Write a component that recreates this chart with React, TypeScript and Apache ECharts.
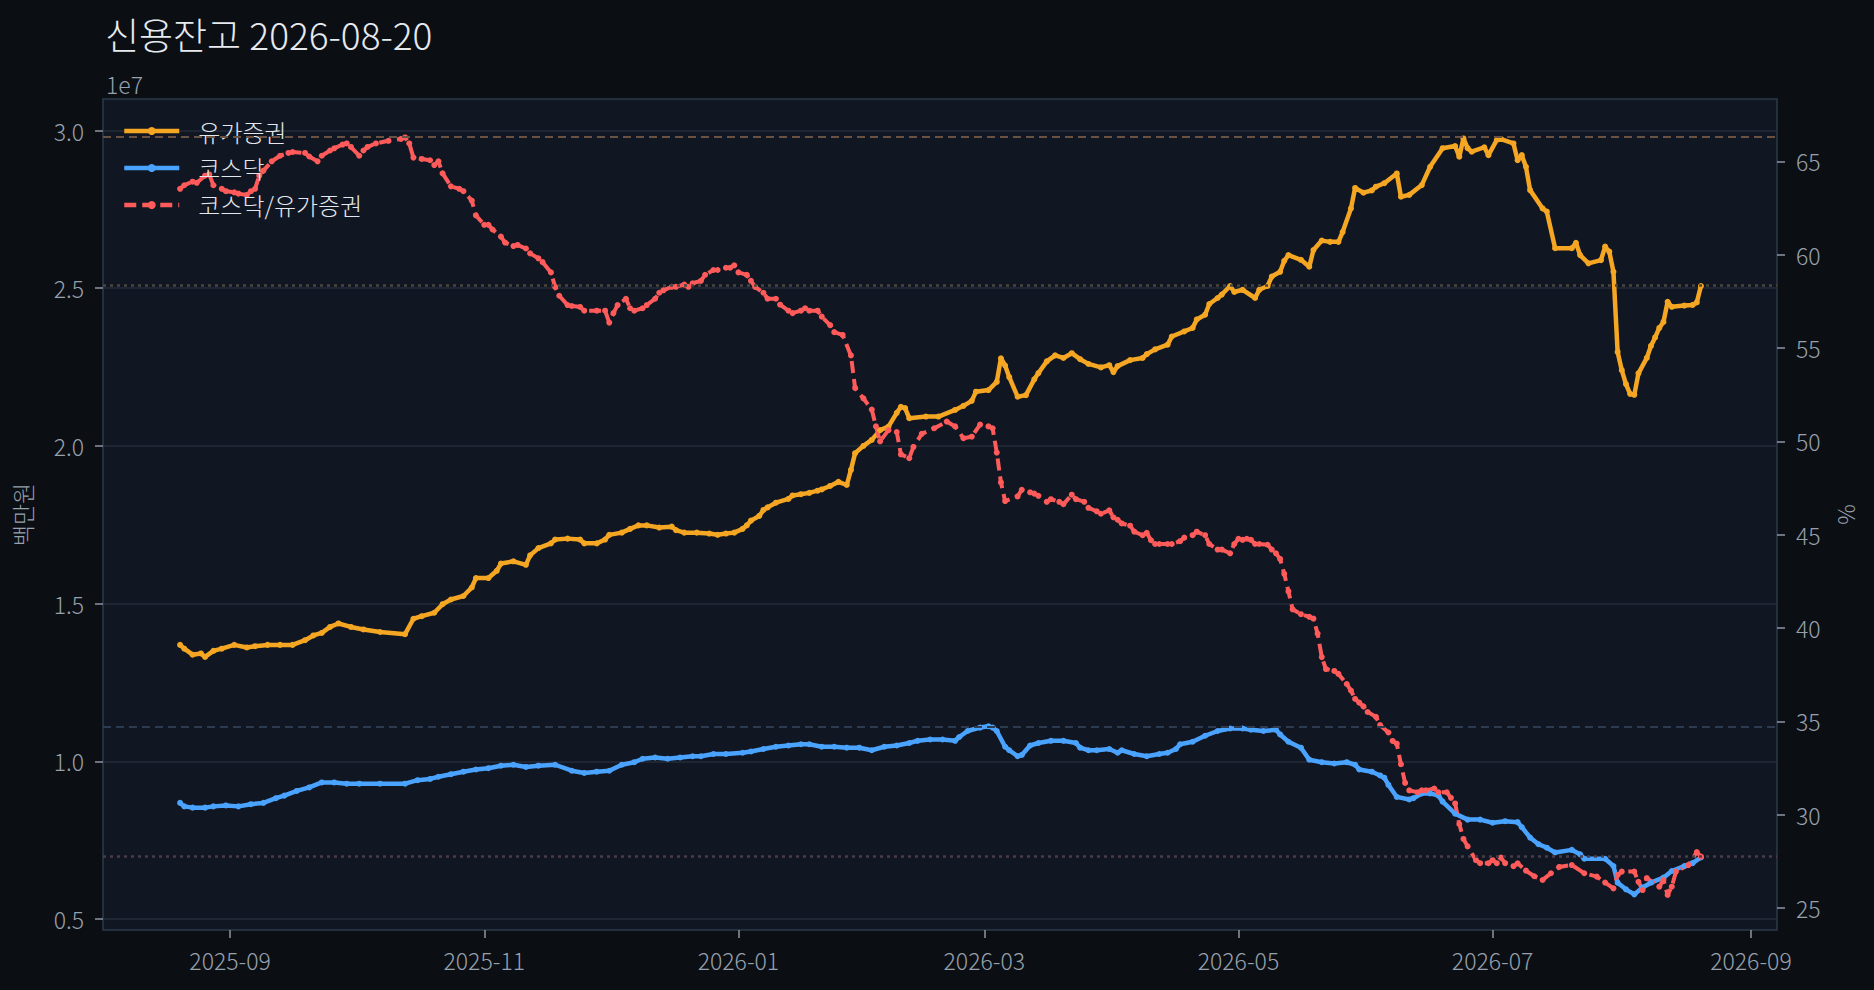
import React, { useEffect, useRef } from "react";
import * as echarts from "echarts";

// 유가증권 신용잔고 (단위: 1e7 백만원)
const KOSPI: [string, number][] = [
  ["2025-08-20", 1.369], ["2025-08-21", 1.357], ["2025-08-23", 1.338], ["2025-08-25", 1.342], ["2025-08-26", 1.331],
  ["2025-08-28", 1.350], ["2025-08-30", 1.357], ["2025-09-02", 1.369], ["2025-09-05", 1.361], ["2025-09-07", 1.365],
  ["2025-09-10", 1.369], ["2025-09-13", 1.369], ["2025-09-16", 1.369], ["2025-09-19", 1.384], ["2025-09-21", 1.399],
  ["2025-09-23", 1.407], ["2025-09-25", 1.426], ["2025-09-27", 1.437], ["2025-09-30", 1.426], ["2025-10-03", 1.418],
  ["2025-10-07", 1.410], ["2025-10-13", 1.403], ["2025-10-15", 1.452], ["2025-10-17", 1.460], ["2025-10-20", 1.471],
  ["2025-10-22", 1.498], ["2025-10-24", 1.513], ["2025-10-27", 1.524], ["2025-10-29", 1.551], ["2025-10-30", 1.581],
  ["2025-11-02", 1.581], ["2025-11-04", 1.604], ["2025-11-05", 1.627], ["2025-11-08", 1.634], ["2025-11-11", 1.623],
  ["2025-11-12", 1.653], ["2025-11-14", 1.676], ["2025-11-17", 1.691], ["2025-11-18", 1.703], ["2025-11-21", 1.706],
  ["2025-11-24", 1.703], ["2025-11-25", 1.691], ["2025-11-28", 1.691], ["2025-11-30", 1.703], ["2025-12-01", 1.718],
  ["2025-12-04", 1.725], ["2025-12-06", 1.737], ["2025-12-08", 1.748], ["2025-12-10", 1.748], ["2025-12-13", 1.741],
  ["2025-12-16", 1.744], ["2025-12-17", 1.733], ["2025-12-19", 1.725], ["2025-12-22", 1.725], ["2025-12-25", 1.722],
  ["2025-12-27", 1.718], ["2025-12-29", 1.722], ["2025-12-31", 1.725], ["2026-01-02", 1.737], ["2026-01-03", 1.748],
  ["2026-01-04", 1.763], ["2026-01-06", 1.778], ["2026-01-07", 1.797], ["2026-01-08", 1.805], ["2026-01-10", 1.820],
  ["2026-01-13", 1.832], ["2026-01-14", 1.843], ["2026-01-16", 1.847], ["2026-01-18", 1.851], ["2026-01-20", 1.858],
  ["2026-01-21", 1.862], ["2026-01-23", 1.873], ["2026-01-25", 1.886], ["2026-01-27", 1.876], ["2026-01-28", 1.924],
  ["2026-01-29", 1.977], ["2026-01-31", 2.000], ["2026-02-02", 2.019], ["2026-02-04", 2.050], ["2026-02-06", 2.061],
  ["2026-02-08", 2.105], ["2026-02-09", 2.124], ["2026-02-10", 2.120], ["2026-02-11", 2.088], ["2026-02-15", 2.093],
  ["2026-02-18", 2.093], ["2026-02-22", 2.114], ["2026-02-24", 2.127], ["2026-02-26", 2.143], ["2026-02-27", 2.172],
  ["2026-03-02", 2.177], ["2026-03-04", 2.203], ["2026-03-05", 2.278], ["2026-03-06", 2.255], ["2026-03-07", 2.218],
  ["2026-03-09", 2.156], ["2026-03-11", 2.161], ["2026-03-13", 2.211], ["2026-03-14", 2.231], ["2026-03-16", 2.268],
  ["2026-03-18", 2.287], ["2026-03-20", 2.279], ["2026-03-22", 2.294], ["2026-03-24", 2.275], ["2026-03-26", 2.260],
  ["2026-03-29", 2.249], ["2026-03-31", 2.256], ["2026-04-01", 2.234], ["2026-04-02", 2.253], ["2026-04-05", 2.272],
  ["2026-04-08", 2.279], ["2026-04-09", 2.291], ["2026-04-11", 2.306], ["2026-04-14", 2.321], ["2026-04-15", 2.347],
  ["2026-04-18", 2.363], ["2026-04-20", 2.374], ["2026-04-21", 2.401], ["2026-04-23", 2.416], ["2026-04-24", 2.450],
  ["2026-04-26", 2.469], ["2026-04-27", 2.480], ["2026-04-29", 2.507], ["2026-04-30", 2.488], ["2026-05-02", 2.495],
  ["2026-05-05", 2.469], ["2026-05-06", 2.495], ["2026-05-08", 2.507], ["2026-05-09", 2.537], ["2026-05-11", 2.552],
  ["2026-05-12", 2.587], ["2026-05-13", 2.605], ["2026-05-16", 2.590], ["2026-05-18", 2.568], ["2026-05-19", 2.621],
  ["2026-05-21", 2.651], ["2026-05-23", 2.647], ["2026-05-25", 2.647], ["2026-05-26", 2.678], ["2026-05-28", 2.753],
  ["2026-05-29", 2.818], ["2026-05-31", 2.803], ["2026-06-02", 2.810], ["2026-06-03", 2.822], ["2026-06-05", 2.833],
  ["2026-06-08", 2.864], ["2026-06-09", 2.790], ["2026-06-11", 2.796], ["2026-06-14", 2.827], ["2026-06-16", 2.885],
  ["2026-06-19", 2.944], ["2026-06-22", 2.951], ["2026-06-23", 2.917], ["2026-06-24", 2.975], ["2026-06-25", 2.944],
  ["2026-06-26", 2.933], ["2026-06-29", 2.947], ["2026-06-30", 2.922], ["2026-07-02", 2.970], ["2026-07-03", 2.973],
  ["2026-07-06", 2.959], ["2026-07-07", 2.906], ["2026-07-08", 2.922], ["2026-07-09", 2.885], ["2026-07-10", 2.811],
  ["2026-07-13", 2.753], ["2026-07-14", 2.743], ["2026-07-16", 2.627], ["2026-07-20", 2.627], ["2026-07-21", 2.644],
  ["2026-07-22", 2.605], ["2026-07-24", 2.579], ["2026-07-27", 2.589], ["2026-07-28", 2.632], ["2026-07-29", 2.616],
  ["2026-07-30", 2.552], ["2026-07-31", 2.298], ["2026-08-01", 2.240], ["2026-08-02", 2.196], ["2026-08-03", 2.165],
  ["2026-08-04", 2.162], ["2026-08-05", 2.230], ["2026-08-07", 2.279], ["2026-08-08", 2.317], ["2026-08-09", 2.344],
  ["2026-08-10", 2.374], ["2026-08-11", 2.393], ["2026-08-12", 2.457], ["2026-08-13", 2.441], ["2026-08-16", 2.445],
  ["2026-08-18", 2.447], ["2026-08-19", 2.455], ["2026-08-20", 2.507],
];

// 코스닥 신용잔고 (단위: 1e7 백만원)
const KOSDAQ: [string, number][] = [
  ["2025-08-20", 0.868], ["2025-08-21", 0.857], ["2025-08-23", 0.853], ["2025-08-26", 0.853], ["2025-08-28", 0.857],
  ["2025-08-31", 0.860], ["2025-09-03", 0.857], ["2025-09-06", 0.864], ["2025-09-09", 0.868], ["2025-09-12", 0.883],
  ["2025-09-14", 0.891], ["2025-09-17", 0.906], ["2025-09-20", 0.917], ["2025-09-23", 0.933], ["2025-09-26", 0.933],
  ["2025-09-29", 0.929], ["2025-10-02", 0.929], ["2025-10-07", 0.929], ["2025-10-13", 0.929], ["2025-10-16", 0.940],
  ["2025-10-19", 0.944], ["2025-10-21", 0.951], ["2025-10-24", 0.959], ["2025-10-27", 0.967], ["2025-10-30", 0.974],
  ["2025-11-02", 0.978], ["2025-11-05", 0.986], ["2025-11-08", 0.989], ["2025-11-11", 0.982], ["2025-11-14", 0.986],
  ["2025-11-18", 0.989], ["2025-11-22", 0.970], ["2025-11-25", 0.963], ["2025-11-28", 0.967], ["2025-12-01", 0.970],
  ["2025-12-04", 0.989], ["2025-12-07", 0.997], ["2025-12-09", 1.008], ["2025-12-12", 1.012], ["2025-12-15", 1.008],
  ["2025-12-18", 1.012], ["2025-12-21", 1.016], ["2025-12-23", 1.016], ["2025-12-26", 1.023], ["2025-12-29", 1.023],
  ["2026-01-02", 1.027], ["2026-01-04", 1.031], ["2026-01-07", 1.039], ["2026-01-10", 1.046], ["2026-01-13", 1.050],
  ["2026-01-16", 1.054], ["2026-01-18", 1.054], ["2026-01-21", 1.046], ["2026-01-24", 1.046], ["2026-01-27", 1.043],
  ["2026-01-30", 1.043], ["2026-02-02", 1.035], ["2026-02-05", 1.046], ["2026-02-08", 1.050], ["2026-02-11", 1.058],
  ["2026-02-13", 1.065], ["2026-02-16", 1.069], ["2026-02-19", 1.069], ["2026-02-22", 1.065], ["2026-02-23", 1.077],
  ["2026-02-25", 1.096], ["2026-02-28", 1.107], ["2026-03-02", 1.111], ["2026-03-03", 1.107], ["2026-03-04", 1.096],
  ["2026-03-06", 1.046], ["2026-03-07", 1.035], ["2026-03-09", 1.016], ["2026-03-10", 1.020], ["2026-03-12", 1.050],
  ["2026-03-14", 1.058], ["2026-03-17", 1.065], ["2026-03-20", 1.065], ["2026-03-23", 1.058], ["2026-03-24", 1.043],
  ["2026-03-26", 1.035], ["2026-03-28", 1.035], ["2026-03-31", 1.039], ["2026-04-02", 1.027], ["2026-04-03", 1.035],
  ["2026-04-06", 1.023], ["2026-04-09", 1.016], ["2026-04-12", 1.023], ["2026-04-14", 1.027], ["2026-04-16", 1.039],
  ["2026-04-17", 1.054], ["2026-04-20", 1.062], ["2026-04-23", 1.081], ["2026-04-26", 1.096], ["2026-04-29", 1.104],
  ["2026-05-02", 1.104], ["2026-05-04", 1.100], ["2026-05-07", 1.096], ["2026-05-10", 1.100], ["2026-05-11", 1.085],
  ["2026-05-13", 1.062], ["2026-05-16", 1.043], ["2026-05-18", 1.005], ["2026-05-21", 0.997], ["2026-05-24", 0.993],
  ["2026-05-27", 0.997], ["2026-05-29", 0.989], ["2026-05-30", 0.974], ["2026-06-02", 0.967], ["2026-06-04", 0.955],
  ["2026-06-05", 0.948], ["2026-06-06", 0.925], ["2026-06-08", 0.887], ["2026-06-11", 0.879], ["2026-06-12", 0.883],
  ["2026-06-14", 0.898], ["2026-06-16", 0.898], ["2026-06-18", 0.891], ["2026-06-19", 0.872], ["2026-06-22", 0.834],
  ["2026-06-25", 0.815], ["2026-06-28", 0.815], ["2026-07-01", 0.805], ["2026-07-04", 0.810], ["2026-07-07", 0.807],
  ["2026-07-08", 0.791], ["2026-07-10", 0.758], ["2026-07-12", 0.737], ["2026-07-14", 0.726], ["2026-07-16", 0.711],
  ["2026-07-20", 0.719], ["2026-07-22", 0.705], ["2026-07-23", 0.691], ["2026-07-28", 0.691], ["2026-07-30", 0.668],
  ["2026-07-31", 0.615], ["2026-08-02", 0.594], ["2026-08-04", 0.578], ["2026-08-06", 0.600], ["2026-08-08", 0.615],
  ["2026-08-11", 0.631], ["2026-08-13", 0.652], ["2026-08-16", 0.668], ["2026-08-18", 0.677], ["2026-08-20", 0.695],
];

// 코스닥/유가증권 (%)
const RATIO: [string, number][] = [
  ["2025-08-20", 63.53], ["2025-08-21", 63.72], ["2025-08-23", 63.91], ["2025-08-24", 63.85], ["2025-08-26", 64.23],
  ["2025-08-27", 64.30], ["2025-08-28", 63.72], ["2025-08-30", 63.53], ["2025-08-31", 63.40], ["2025-09-02", 63.34],
  ["2025-09-03", 63.27], ["2025-09-05", 63.20], ["2025-09-06", 63.40], ["2025-09-07", 63.53], ["2025-09-08", 64.23],
  ["2025-09-09", 64.50], ["2025-09-11", 65.00], ["2025-09-13", 65.30], ["2025-09-15", 65.45], ["2025-09-16", 65.50],
  ["2025-09-19", 65.45], ["2025-09-20", 65.26], ["2025-09-22", 65.00], ["2025-09-23", 65.30], ["2025-09-25", 65.58],
  ["2025-09-26", 65.70], ["2025-09-28", 65.90], ["2025-09-29", 65.96], ["2025-09-30", 65.77], ["2025-10-02", 65.30],
  ["2025-10-03", 65.58], ["2025-10-04", 65.77], ["2025-10-06", 65.96], ["2025-10-09", 66.10], ["2025-10-12", 66.20],
  ["2025-10-13", 66.28], ["2025-10-14", 65.96], ["2025-10-15", 65.20], ["2025-10-17", 65.13], ["2025-10-19", 65.06],
  ["2025-10-20", 64.80], ["2025-10-21", 65.00], ["2025-10-22", 64.36], ["2025-10-24", 63.66], ["2025-10-26", 63.53],
  ["2025-10-27", 63.40], ["2025-10-29", 62.90], ["2025-10-30", 62.10], ["2025-11-01", 61.60], ["2025-11-02", 61.60],
  ["2025-11-03", 61.35], ["2025-11-05", 60.97], ["2025-11-06", 60.65], ["2025-11-08", 60.46], ["2025-11-09", 60.52],
  ["2025-11-11", 60.33], ["2025-11-12", 60.07], ["2025-11-14", 59.80], ["2025-11-15", 59.60], ["2025-11-17", 59.05],
  ["2025-11-18", 58.28], ["2025-11-19", 57.80], ["2025-11-21", 57.30], ["2025-11-22", 57.25], ["2025-11-24", 57.20],
  ["2025-11-25", 57.00], ["2025-11-28", 57.00], ["2025-11-30", 57.00], ["2025-12-01", 56.36], ["2025-12-02", 56.87],
  ["2025-12-03", 57.30], ["2025-12-05", 57.64], ["2025-12-06", 57.13], ["2025-12-07", 57.00], ["2025-12-09", 57.13],
  ["2025-12-10", 57.30], ["2025-12-12", 57.64], ["2025-12-13", 57.96], ["2025-12-14", 58.09], ["2025-12-16", 58.28],
  ["2025-12-17", 58.28], ["2025-12-19", 58.40], ["2025-12-20", 58.28], ["2025-12-21", 58.47], ["2025-12-23", 58.60],
  ["2025-12-24", 58.92], ["2025-12-26", 59.18], ["2025-12-27", 59.18], ["2025-12-29", 59.30], ["2025-12-30", 59.30],
  ["2025-12-31", 59.43], ["2026-01-01", 59.05], ["2026-01-03", 58.92], ["2026-01-04", 58.60], ["2026-01-05", 58.28],
  ["2026-01-07", 57.96], ["2026-01-08", 57.64], ["2026-01-10", 57.64], ["2026-01-11", 57.32], ["2026-01-13", 57.00],
  ["2026-01-14", 56.87], ["2026-01-16", 57.00], ["2026-01-17", 57.13], ["2026-01-18", 57.00], ["2026-01-20", 57.00],
  ["2026-01-21", 56.68], ["2026-01-23", 56.23], ["2026-01-24", 55.85], ["2026-01-26", 55.70], ["2026-01-28", 54.60],
  ["2026-01-29", 52.86], ["2026-01-31", 52.30], ["2026-02-02", 51.70], ["2026-02-03", 50.80], ["2026-02-04", 50.00],
  ["2026-02-06", 50.60], ["2026-02-08", 50.50], ["2026-02-09", 49.30], ["2026-02-11", 49.10], ["2026-02-12", 49.70],
  ["2026-02-14", 50.40], ["2026-02-17", 50.70], ["2026-02-20", 51.06], ["2026-02-22", 50.80], ["2026-02-24", 50.17],
  ["2026-02-26", 50.25], ["2026-02-28", 50.90], ["2026-03-02", 50.80], ["2026-03-03", 50.70], ["2026-03-04", 49.40],
  ["2026-03-05", 47.80], ["2026-03-06", 46.80], ["2026-03-09", 47.05], ["2026-03-10", 47.40], ["2026-03-12", 47.27],
  ["2026-03-13", 47.20], ["2026-03-14", 47.08], ["2026-03-16", 46.76], ["2026-03-17", 46.90], ["2026-03-19", 46.76],
  ["2026-03-20", 46.63], ["2026-03-22", 47.14], ["2026-03-23", 46.90], ["2026-03-25", 46.76], ["2026-03-26", 46.44],
  ["2026-03-28", 46.25], ["2026-03-29", 46.12], ["2026-03-31", 46.30], ["2026-04-01", 45.93], ["2026-04-02", 45.80],
  ["2026-04-03", 45.60], ["2026-04-05", 45.48], ["2026-04-06", 45.16], ["2026-04-08", 44.97], ["2026-04-09", 45.10],
  ["2026-04-10", 44.70], ["2026-04-11", 44.50], ["2026-04-12", 44.50], ["2026-04-14", 44.50], ["2026-04-15", 44.50],
  ["2026-04-17", 44.65], ["2026-04-18", 44.84], ["2026-04-20", 44.97], ["2026-04-21", 45.16], ["2026-04-23", 44.97],
  ["2026-04-24", 44.50], ["2026-04-26", 44.20], ["2026-04-27", 44.20], ["2026-04-29", 44.00], ["2026-04-30", 44.50],
  ["2026-05-01", 44.78], ["2026-05-02", 44.72], ["2026-05-03", 44.78], ["2026-05-04", 44.72], ["2026-05-05", 44.50],
  ["2026-05-06", 44.50], ["2026-05-08", 44.46], ["2026-05-09", 44.20], ["2026-05-10", 44.00], ["2026-05-11", 43.70],
  ["2026-05-12", 42.90], ["2026-05-13", 41.96], ["2026-05-14", 41.00], ["2026-05-16", 40.74], ["2026-05-18", 40.60],
  ["2026-05-19", 40.50], ["2026-05-20", 39.70], ["2026-05-21", 38.44], ["2026-05-22", 37.80], ["2026-05-24", 37.70],
  ["2026-05-25", 37.54], ["2026-05-27", 37.00], ["2026-05-28", 36.65], ["2026-05-29", 36.20], ["2026-05-30", 36.00],
  ["2026-05-31", 35.80], ["2026-06-01", 35.50], ["2026-06-03", 35.24], ["2026-06-04", 34.80], ["2026-06-06", 34.40],
  ["2026-06-07", 33.95], ["2026-06-08", 33.80], ["2026-06-09", 32.70], ["2026-06-10", 31.70], ["2026-06-11", 31.30],
  ["2026-06-13", 31.20], ["2026-06-14", 31.30], ["2026-06-15", 31.30], ["2026-06-17", 31.40], ["2026-06-18", 31.20],
  ["2026-06-20", 31.20], ["2026-06-21", 30.90], ["2026-06-22", 30.60], ["2026-06-23", 29.50], ["2026-06-24", 28.70],
  ["2026-06-25", 28.30], ["2026-06-27", 27.56], ["2026-06-28", 27.40], ["2026-06-30", 27.40], ["2026-07-01", 27.56],
  ["2026-07-02", 27.40], ["2026-07-03", 27.70], ["2026-07-04", 27.40], ["2026-07-06", 27.24], ["2026-07-07", 27.39],
  ["2026-07-09", 27.00], ["2026-07-11", 26.70], ["2026-07-13", 26.50], ["2026-07-15", 26.86], ["2026-07-17", 27.20],
  ["2026-07-20", 27.30], ["2026-07-23", 26.86], ["2026-07-26", 26.68], ["2026-07-28", 26.36], ["2026-07-30", 26.05],
  ["2026-07-31", 26.77], ["2026-08-01", 26.95], ["2026-08-04", 26.95], ["2026-08-05", 26.40], ["2026-08-06", 25.96],
  ["2026-08-07", 26.60], ["2026-08-10", 26.14], ["2026-08-11", 26.50], ["2026-08-12", 25.70], ["2026-08-13", 26.14],
  ["2026-08-14", 26.95], ["2026-08-17", 27.30], ["2026-08-19", 28.00], ["2026-08-20", 27.75],
];

const X_TICKS = ["2025-09-01", "2025-11-01", "2026-01-01", "2026-03-01", "2026-05-01", "2026-07-01", "2026-09-01"];
const LEFT_TICKS = [0.5, 1.0, 1.5, 2.0, 2.5, 3.0];
const RIGHT_TICKS = [25, 30, 35, 40, 45, 50, 55, 60, 65];
const TITLE = "신용잔고 2026-08-20";
const NAMES = ["유가증권", "코스닥", "코스닥/유가증권"];

const ts = (s: string) => {
  const [y, m, d] = s.split("-").map(Number);
  return new Date(y, m - 1, d).getTime();
};

const FONT = "'Noto Sans CJK KR', 'Noto Sans', sans-serif";
const TICK_COLOR = "#97a1ad";
const TICK_FS = 23;

export default function App() {
  const ref = useRef<HTMLDivElement>(null);
  useEffect(() => {
    document.body.style.margin = "0";
    const chart = echarts.init(ref.current!, null, { renderer: "svg" });
    const toData = (arr: [string, number][]) => arr.map(([d, v]) => [ts(d), v]);
    const lastK = KOSPI[KOSPI.length - 1][1];
    const lastR = RATIO[RATIO.length - 1][1];
    const xTickVals = X_TICKS.map(ts);
    const labelStyle = { color: TICK_COLOR, fontSize: TICK_FS, fontFamily: FONT, fontWeight: 300 };
    const tickStyle = { show: true, length: 8, lineStyle: { color: "#8c97a5", width: 1.5 } };
    chart.setOption({
      animation: false,
      backgroundColor: "#0b0e13",
      textStyle: { fontFamily: FONT },
      title: {
        text: TITLE,
        left: 100,
        top: 10,
        textStyle: { color: "#e6eaef", fontSize: 37, fontWeight: 300, fontFamily: FONT },
      },
      graphic: [
        {
          type: "text",
          left: 106,
          top: 72,
          style: { text: "1e7", fill: TICK_COLOR, fontSize: TICK_FS, fontFamily: FONT, fontWeight: 300 },
        },
      ],
      legend: {
        orient: "vertical",
        left: 122,
        top: 119,
        itemWidth: 55,
        itemHeight: 10,
        itemGap: 13,
        padding: 0,
        data: NAMES,
        lineStyle: { width: 4.5 },
        textStyle: { color: "#e4e8ee", fontSize: 24, fontFamily: FONT, fontWeight: 300, padding: [0, 0, 0, 14] },
      },
      grid: {
        left: 103,
        top: 99,
        right: 97,
        bottom: 60,
        show: true,
        backgroundColor: "#111722",
        borderColor: "#2d3a4b",
        borderWidth: 1.5,
      },
      xAxis: {
        type: "value",
        min: new Date(2025, 7, 1, 12).getTime(),
        max: new Date(2026, 8, 7, 6).getTime(),
        axisLine: { show: false },
        axisTick: { ...tickStyle, customValues: xTickVals },
        axisLabel: {
          ...labelStyle,
          customValues: xTickVals,
          margin: 18,
          formatter: (v: number) => {
            const d = new Date(v);
            return `${d.getFullYear()}-${String(d.getMonth() + 1).padStart(2, "0")}`;
          },
        },
        splitLine: { show: false },
      },
      yAxis: [
        {
          type: "value",
          position: "left",
          min: 0.465,
          max: 3.1,
          name: "백만원",
          nameLocation: "middle",
          nameGap: 70,
          nameRotate: 90,
          nameTextStyle: labelStyle,
          axisLine: { show: false },
          axisTick: { ...tickStyle, customValues: LEFT_TICKS },
          axisLabel: { ...labelStyle, customValues: LEFT_TICKS, margin: 19, formatter: (v: number) => v.toFixed(1) },
          splitLine: { show: true, lineStyle: { color: "#232d3b", width: 1.5 } },
        },
        {
          type: "value",
          position: "right",
          min: 23.82,
          max: 68.34,
          name: "%",
          nameLocation: "middle",
          nameGap: 56,
          nameRotate: 90,
          nameTextStyle: labelStyle,
          axisLine: { show: false },
          axisTick: { ...tickStyle, customValues: RIGHT_TICKS },
          axisLabel: { ...labelStyle, customValues: RIGHT_TICKS, margin: 19 },
          splitLine: { show: false },
        },
      ],
      series: [
        {
          name: NAMES[0],
          type: "line",
          yAxisIndex: 0,
          data: toData(KOSPI),
          color: "#f5a623",
          symbol: "circle",
          symbolSize: 6,
          showSymbol: true,
          lineStyle: { width: 4.5, color: "#f5a623" },
          itemStyle: { color: "#f5a623" },
          markLine: {
            silent: true,
            symbol: ["none", "none"],
            label: { show: false },
            data: [
              { type: "max", lineStyle: { color: "#6a5242", width: 2, type: [8, 5] } },
              { yAxis: lastK, lineStyle: { color: "#4a463e", width: 2.5, type: [3, 4] } },
            ],
          },
        },
        {
          name: NAMES[1],
          type: "line",
          yAxisIndex: 0,
          data: toData(KOSDAQ),
          color: "#4aa3ff",
          symbol: "circle",
          symbolSize: 6,
          showSymbol: true,
          lineStyle: { width: 4.5, color: "#4aa3ff" },
          itemStyle: { color: "#4aa3ff" },
          markLine: {
            silent: true,
            symbol: ["none", "none"],
            label: { show: false },
            data: [{ type: "max", lineStyle: { color: "#2c3b4f", width: 2, type: [8, 5] } }],
          },
        },
        {
          name: NAMES[2],
          type: "line",
          yAxisIndex: 1,
          data: toData(RATIO),
          color: "#ff5b5b",
          symbol: "circle",
          symbolSize: 6,
          showSymbol: true,
          lineStyle: { width: 4, color: "#ff5b5b", type: [12, 6] },
          itemStyle: { color: "#ff5b5b" },
          markLine: {
            silent: true,
            symbol: ["none", "none"],
            label: { show: false },
            data: [{ yAxis: lastR, lineStyle: { color: "#4a3c48", width: 2.5, type: [3, 4] } }],
          },
        },
      ],
    });
    return () => chart.dispose();
  }, []);
  return <div ref={ref} style={{ position: "fixed", left: 0, top: 0, width: 1874, height: 990 }} />;
}
